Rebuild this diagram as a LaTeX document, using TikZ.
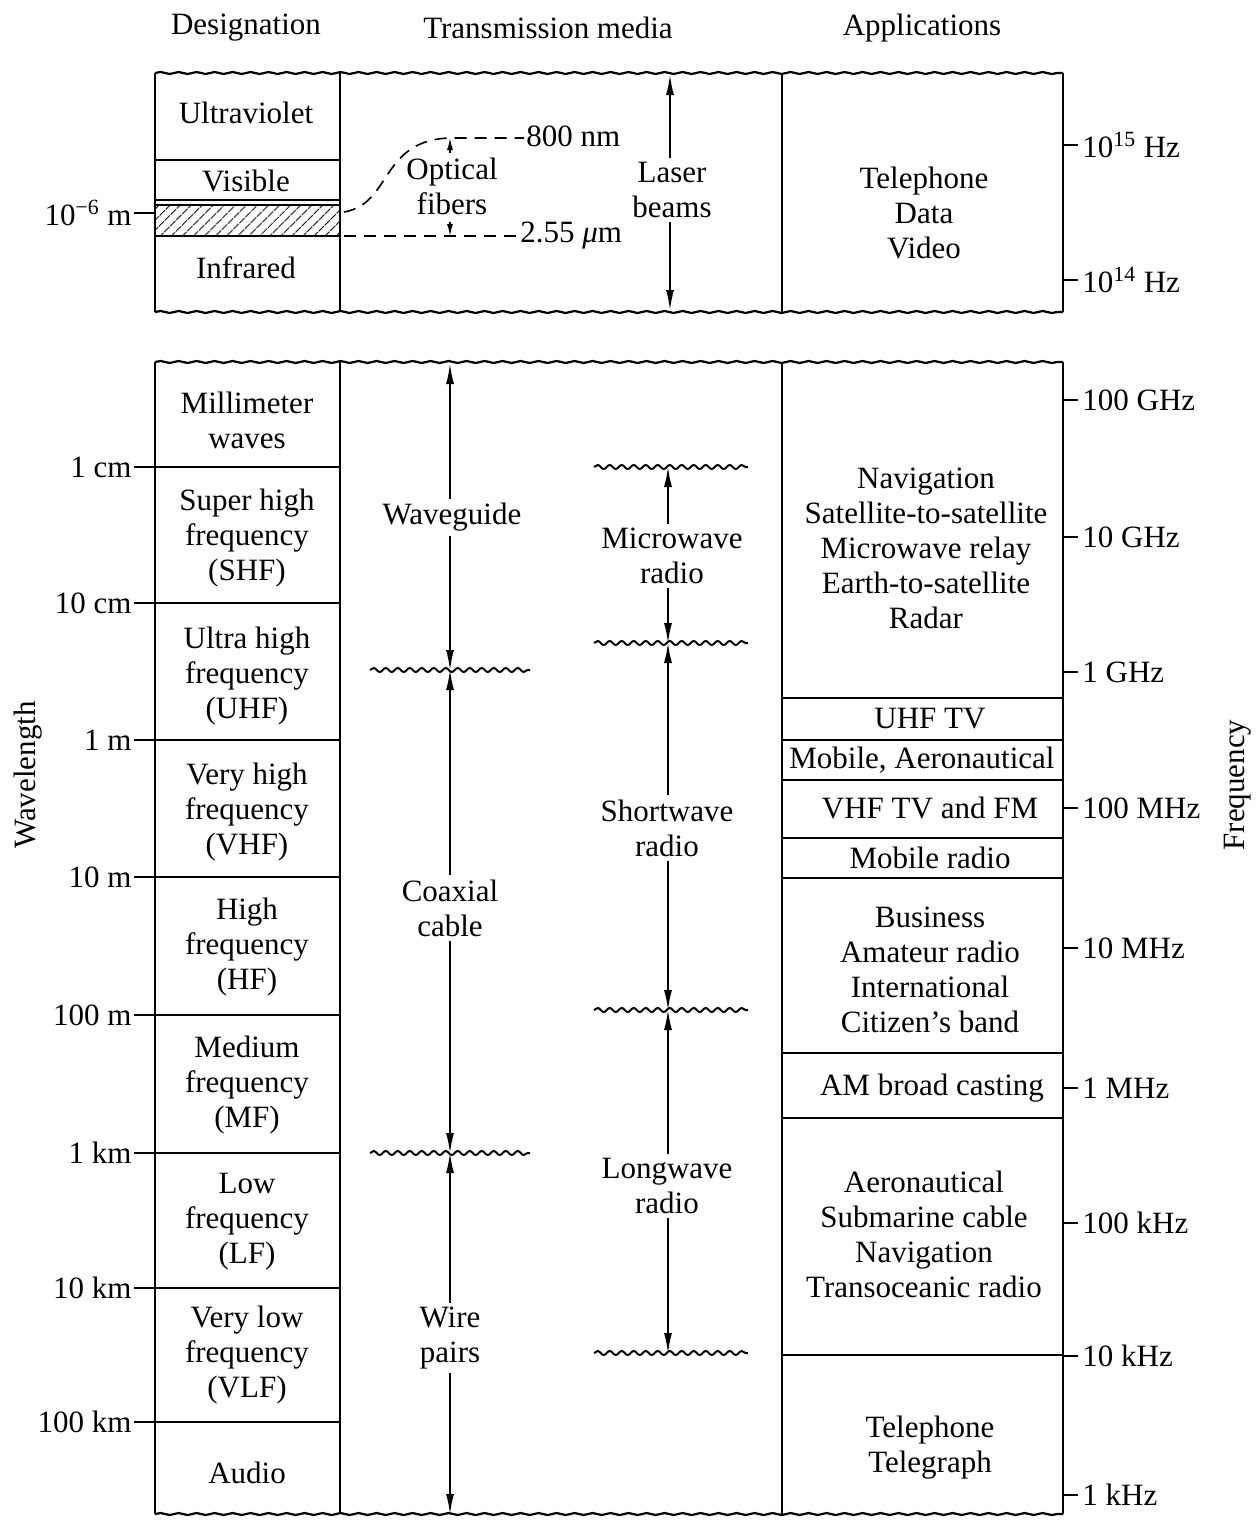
\documentclass[tikz,border=0pt]{standalone}
\usepackage{fontspec}
\setmainfont{Liberation Serif}
\usetikzlibrary{positioning, arrows.meta, decorations.pathmorphing, patterns.meta}

\tikzset{
    lbl/.style={font=\fontsize{15.5}{17.5}\selectfont, align=center, inner sep=2pt},
    frame/.style={line width=1.1pt},
    rule/.style={line width=0.9pt},
    brk/.style={line width=1.1pt, decorate, decoration={snake, amplitude=0.5pt, segment length=9pt}},
    cut/.style={line width=1pt, decorate, decoration={snake, amplitude=1pt, segment length=6pt}},
    arr/.style={line width=0.8pt, -{Latex[length=10pt,width=4pt]}},
    tinyarr/.style={line width=0.7pt, -{Latex[length=6pt,width=3pt]}},
}

\begin{document}
\begin{tikzpicture}[x=0.5pt, y=-0.5pt]
    \useasboundingbox (0,0) rectangle (1257,1522);

    % column headings
    \node[lbl] (hdes) at (246,28) {Designation};
    \node[lbl] (hmed) at (548,28) {Transmission media};
    \node[lbl] (happ) at (922,28) {Applications};

    % upper (optical) block
    \draw[frame] (155,73) -- (155,312);
    \draw[frame] (340,73) -- (340,312);
    \draw[frame] (782,73) -- (782,312);
    \draw[frame] (1063,73) -- (1063,312);
    \draw[brk] (155,73) -- (1063,73);
    \draw[brk] (155,312) -- (1063,312);
    \draw[rule] (155,160) -- (340,160);
    \draw[rule] (155,200) -- (340,200);
    \draw[rule, pattern={Lines[angle=45, distance=4pt, line width=0.6pt]}] (155,205) rectangle (340,236);

    \node[lbl] (uv) at (246,113) {Ultraviolet};
    \node[lbl] (vis) at (246,181) {Visible};
    \node[lbl] (ir) at (246,268) {Infrared};
    \draw[rule] (134,213) -- (155,213);
    \node[lbl, anchor=east, inner sep=1pt] (um) at (134,213) {10\textsuperscript{−6} m};

    % optical fibre window
    \coordinate (f800) at (450,138);
    \coordinate (f255) at (450,236);
    \draw[dashed, line width=0.8pt, dash pattern=on 6pt off 4pt] (344,212) .. controls (392,204) and (380,140) .. (f800) -- (524,138);
    \draw[dashed, line width=0.8pt, dash pattern=on 6pt off 4pt] (344,236) -- (f255) -- (518,236);
    \node[lbl, anchor=west, inner sep=1pt] (nm) at (524,136) {800 nm};
    \node[lbl, anchor=west, inner sep=1pt] (mum) at (518,236) {2.55 \textit{μ}m};
    \node[lbl] (fib) at (452,186) {Optical\\fibers};
    \draw[tinyarr] (450,153) -- (f800);
    \draw[tinyarr] (450,222) -- (f255);

    \node[lbl] (laser) at (672,190) {Laser\\beams};
    \draw[arr] (laser.north -| 670,0) -- (670,75);
    \draw[arr] (laser.south -| 670,0) -- (670,310);

    \node[lbl] (tdv) at (924,213) {Telephone\\Data\\Video};
    \foreach \y/\t in {145/15, 280/14} {
        \draw[rule] (1063,\y) -- (1078,\y);
        \node[lbl, anchor=west, inner sep=1pt] at (1080,\y) {10\textsuperscript{\t} Hz};
    }

    % lower (radio) block
    \draw[frame] (155,362) -- (155,1514);
    \draw[frame] (340,362) -- (340,1514);
    \draw[frame] (782,362) -- (782,1514);
    \draw[frame] (1063,362) -- (1063,1514);
    \draw[brk] (155,362) -- (1063,362);
    \draw[brk] (155,1514) -- (1063,1514);

    % wavelength scale and designations
    \foreach \y/\t in {467/1 cm, 603/10 cm, 740/1 m, 877/10 m, 1015/100 m, 1153/1 km, 1288/10 km, 1422/100 km} {
        \draw[rule] (134,\y) -- (340,\y);
        \node[lbl, anchor=east, inner sep=1pt] at (134,\y) {\t};
    }
    \foreach \y/\t in {420/{Millimeter\\waves}, 538/{Super high\\frequency\\(SHF)}, 676/{Ultra high\\frequency\\(UHF)},
                       812/{Very high\\frequency\\(VHF)}, 947/{High\\frequency\\(HF)}, 1085/{Medium\\frequency\\(MF)},
                       1222/{Low\\frequency\\(LF)}, 1355/{Very low\\frequency\\(VLF)}, 1473/{Audio}} {
        \node[lbl] at (247,\y) {\t};
    }
    \node[lbl, rotate=90] (wl) at (28,775) {Wavelength};

    % guided media
    \coordinate (g0) at (450,364);
    \coordinate (g1) at (450,670);
    \coordinate (g2) at (450,1153);
    \coordinate (g3) at (450,1514);
    \draw[cut] (370,670) -- (530,670);
    \draw[cut] (370,1153) -- (530,1153);
    \node[lbl] (wg) at (452,517) {Waveguide};
    \node[lbl] (coax) at (450,908) {Coaxial\\cable};
    \node[lbl] (wire) at (450,1338) {Wire\\pairs};
    \draw[arr] (wg.north -| g0) -- (g0);
    \draw[arr] (wg.south -| g0) -- (g1);
    \draw[arr] (coax) -- (g1);
    \draw[arr] (coax) -- (g2);
    \draw[arr] (wire) -- (g2);
    \draw[arr] (wire) -- (g3);

    % radio propagation
    \coordinate (r1) at (668,467);
    \coordinate (r2) at (668,643);
    \coordinate (r3) at (668,1010);
    \coordinate (r4) at (668,1353);
    \foreach \c in {r1, r2, r3, r4}
        \draw[cut] ([xshift=-37pt]\c) -- ([xshift=40pt]\c);
    \node[lbl] (mw) at (672,556) {Microwave\\radio};
    \node[lbl] (sw) at (667,828) {Shortwave\\radio};
    \node[lbl] (lw) at (667,1186) {Longwave\\radio};
    \draw[arr] (mw.north -| r1) -- (r1);
    \draw[arr] (mw.south -| r1) -- (r2);
    \draw[arr] (sw.north -| r1) -- (r2);
    \draw[arr] (sw.south -| r1) -- (r3);
    \draw[arr] (lw.north -| r1) -- (r3);
    \draw[arr] (lw.south -| r1) -- (r4);

    % applications
    \foreach \y in {698, 740, 780, 838, 878, 1053, 1118, 1355}
        \draw[rule] (782,\y) -- (1063,\y);
    \node[lbl] (nav) at (926,548) {Navigation\\Satellite-to-satellite\\Microwave relay\\Earth-to-satellite\\Radar};
    \node[lbl] (uhf) at (930,719) {UHF TV};
    \node[lbl] (mob) at (922,760) {Mobile, Aeronautical};
    \node[lbl] (vhf) at (930,808) {VHF TV and FM};
    \node[lbl] (mr) at (930,858) {Mobile radio};
    \node[lbl] (bus) at (930,970) {Business\\Amateur radio\\International\\Citizen’s band};
    \node[lbl] (am) at (932,1088) {AM broad casting};
    \node[lbl] (aer) at (924,1234) {Aeronautical\\Submarine cable\\Navigation\\Transoceanic radio};
    \node[lbl] (tel) at (930,1448) {Telephone\\Telegraph};

    % frequency scale
    \foreach \y/\t in {400/100 GHz, 537/10 GHz, 672/1 GHz, 808/100 MHz, 948/10 MHz, 1088/1 MHz, 1223/100 kHz, 1356/10 kHz, 1495/1 kHz} {
        \draw[rule] (1063,\y) -- (1078,\y);
        \node[lbl, anchor=west, inner sep=1pt] at (1080,\y) {\t};
    }
    \node[lbl, rotate=90] (fq) at (1238,785) {Frequency};
\end{tikzpicture}
\end{document}
